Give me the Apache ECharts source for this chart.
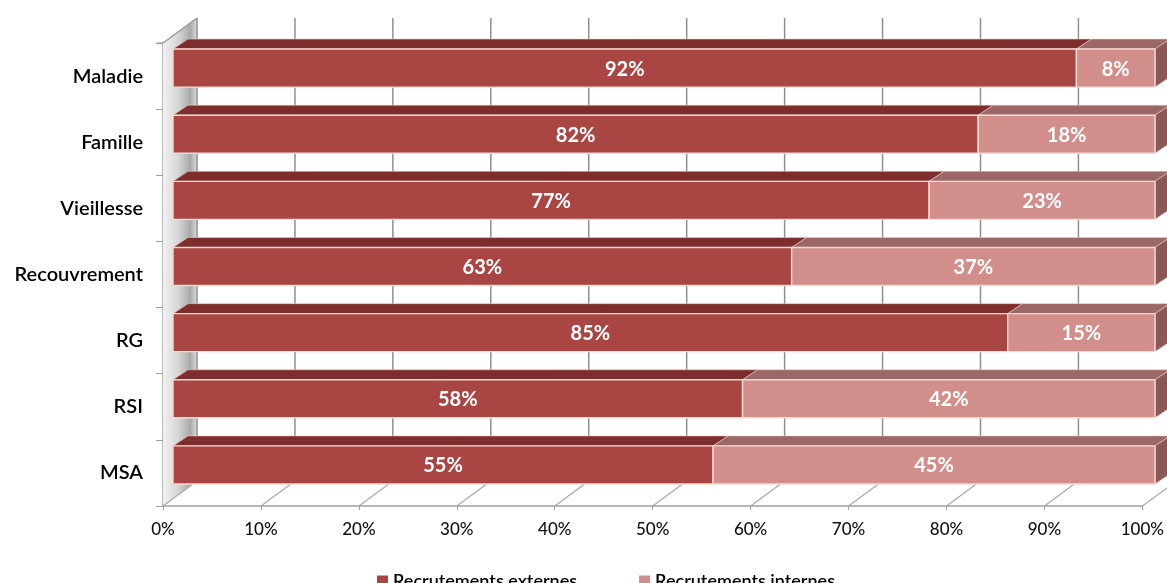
<!DOCTYPE html>
<html>
<head>
<meta charset="utf-8">
<script src="https://cdn.jsdelivr.net/npm/echarts@6/dist/echarts.min.js"></script>
<style>
html,body{margin:0;padding:0;background:#fff;}
#c{width:1167px;height:583px;}
</style>
</head>
<body>
<div id="c"></div>
<script>
const categories = ['Maladie', 'Famille', 'Vieillesse', 'Recouvrement', 'RG', 'RSI', 'MSA'];
const externes = [92, 82, 77, 63, 85, 58, 55];
const internes = [8, 18, 23, 37, 15, 42, 45];
const xTicks = [0, 10, 20, 30, 40, 50, 60, 70, 80, 90, 100];
const seriesNames = ['Recrutements externes', 'Recrutements internes'];

const FONT = 'Lato, "Open Sans", sans-serif';
const DEPTH = [34, -25];      // wall depth vector
const BAR_DEPTH = [15, -10];  // bar depth vector

const chart = echarts.init(document.getElementById('c'), null, {renderer: 'canvas'});

function frameRender(params, api) {
  const band = api.size([0, 1])[1];
  const first = api.coord([0, 0]);
  const last = api.coord([0, categories.length - 1]);
  const yTop = first[1] - band / 2;
  const yBot = last[1] + band / 2;
  const x0 = first[0];
  const children = [];
  children.push({
    type: 'polygon',
    shape: {points: [[x0, yTop], [x0 + DEPTH[0], yTop + DEPTH[1]], [x0 + DEPTH[0], yBot + DEPTH[1]], [x0, yBot]]},
    style: {
      fill: new echarts.graphic.LinearGradient(0, 0, 1, 0, [
        {offset: 0, color: '#f2f2f2'},
        {offset: 0.45, color: '#d6d6d6'},
        {offset: 0.8, color: '#a9a9a9'},
        {offset: 1, color: '#dcdcdc'}
      ]),
      stroke: null
    }
  });
  children.push({type: 'line', shape: {x1: x0 - 6, y1: yTop, x2: x0, y2: yTop}, style: {stroke: '#999', lineWidth: 1.2}});
  children.push({type: 'line', shape: {x1: x0, y1: yTop, x2: x0 + DEPTH[0], y2: yTop + DEPTH[1]}, style: {stroke: '#999', lineWidth: 1.5}});
  xTicks.forEach(function (v) {
    const p = api.coord([v, 0]);
    const bx = p[0] + DEPTH[0];
    children.push({type: 'line', shape: {x1: bx, y1: yTop + DEPTH[1], x2: bx, y2: yBot + DEPTH[1]}, style: {stroke: '#8f8f8f', lineWidth: 1.5}});
    children.push({type: 'line', shape: {x1: p[0], y1: yBot, x2: bx, y2: yBot + DEPTH[1]}, style: {stroke: '#a8a8a8', lineWidth: 1.2}});
  });
  return {type: 'group', children: children};
}

function makeBarRender(front, top, side, drawSide) {
  return function (params, api) {
    const s = api.value(0), e = api.value(1), ci = api.value(2), lab = api.value(3);
    const p0 = api.coord([s, ci]);
    const p1 = api.coord([e, ci]);
    const band = api.size([0, 1])[1];
    const h = band * 0.575;
    const yt = p0[1] - h / 2, yb = p0[1] + h / 2;
    const dx = BAR_DEPTH[0], dy = BAR_DEPTH[1];
    const children = [];
    children.push({
      type: 'polygon',
      shape: {points: [[p0[0], yt], [p1[0], yt], [p1[0] + dx, yt + dy], [p0[0] + dx, yt + dy]]},
      style: {fill: top, stroke: '#e9c9c0', lineWidth: 0.6}
    });
    if (drawSide) {
      children.push({
        type: 'polygon',
        shape: {points: [[p1[0], yt], [p1[0] + dx, yt + dy], [p1[0] + dx, yb + dy], [p1[0], yb]]},
        style: {fill: side, stroke: '#e9c9c0', lineWidth: 0.6}
      });
    }
    children.push({
      type: 'rect',
      shape: {x: p0[0], y: yt, width: p1[0] - p0[0], height: h},
      style: {fill: front, stroke: '#f4dcd2', lineWidth: 1.4}
    });
    children.push({
      type: 'text',
      style: {
        text: lab + '%', x: (p0[0] + p1[0]) / 2, y: p0[1] + 1,
        fill: '#ffffff', font: 'bold 20px ' + FONT, align: 'center', verticalAlign: 'middle'
      }
    });
    return {type: 'group', children: children};
  };
}

const extData = categories.map(function (c, i) { return [0, externes[i], i, externes[i]]; });
const intData = categories.map(function (c, i) { return [externes[i], externes[i] + internes[i], i, internes[i]]; });

const option = {
  backgroundColor: '#ffffff',
  animation: false,
  legend: {
    data: seriesNames,
    left: 372,
    top: 567,
    itemWidth: 11,
    itemHeight: 11,
    itemGap: 62,
    icon: 'rect',
    textStyle: {fontFamily: FONT, fontSize: 18, color: '#000', fontWeight: 600}
  },
  grid: [
    {left: 163, right: 24, top: 43, bottom: 77},
    {left: 173, right: 12, top: 35, bottom: 85}
  ],
  xAxis: [
    {
      type: 'value', gridIndex: 0, min: 0, max: 100, interval: 10,
      axisLabel: {formatter: '{value}%', fontFamily: FONT, fontSize: 17, fontWeight: 500, color: '#111', margin: 15},
      axisLine: {show: true, lineStyle: {color: '#a0a0a0', width: 1.5}},
      axisTick: {show: true, length: 4, lineStyle: {color: '#a0a0a0'}},
      splitLine: {show: false}
    },
    {
      type: 'value', gridIndex: 1, min: 0, max: 100, show: false
    }
  ],
  yAxis: [
    {
      type: 'category', gridIndex: 0, data: categories, inverse: true,
      axisLabel: {fontFamily: FONT, fontSize: 20, fontWeight: 600, color: '#000', margin: 20},
      axisLine: {show: true, lineStyle: {color: '#a0a0a0', width: 1.5}},
      axisTick: {show: true, length: 7, lineStyle: {color: '#a0a0a0'}},
      splitLine: {show: false}
    },
    {
      type: 'category', gridIndex: 1, data: categories, inverse: true, show: false
    }
  ],
  series: [
    {
      type: 'custom', name: '_frame', xAxisIndex: 0, yAxisIndex: 0, z: 1, silent: true,
      renderItem: frameRender, data: [[0, 0]], clip: false
    },
    {
      type: 'custom', name: seriesNames[0], xAxisIndex: 1, yAxisIndex: 1, z: 3,
      itemStyle: {color: '#a94542'},
      renderItem: makeBarRender('#a94542', '#7e2d2d', '#6e2a2a', false),
      encode: {x: [0, 1], y: 2},
      data: extData, clip: false
    },
    {
      type: 'custom', name: seriesNames[1], xAxisIndex: 1, yAxisIndex: 1, z: 3,
      itemStyle: {color: '#d28e8b'},
      renderItem: makeBarRender('#d28e8b', '#9c6767', '#8a5857', true),
      encode: {x: [0, 1], y: 2},
      data: intData, clip: false
    }
  ]
};
chart.setOption(option);
</script>
</body>
</html>
